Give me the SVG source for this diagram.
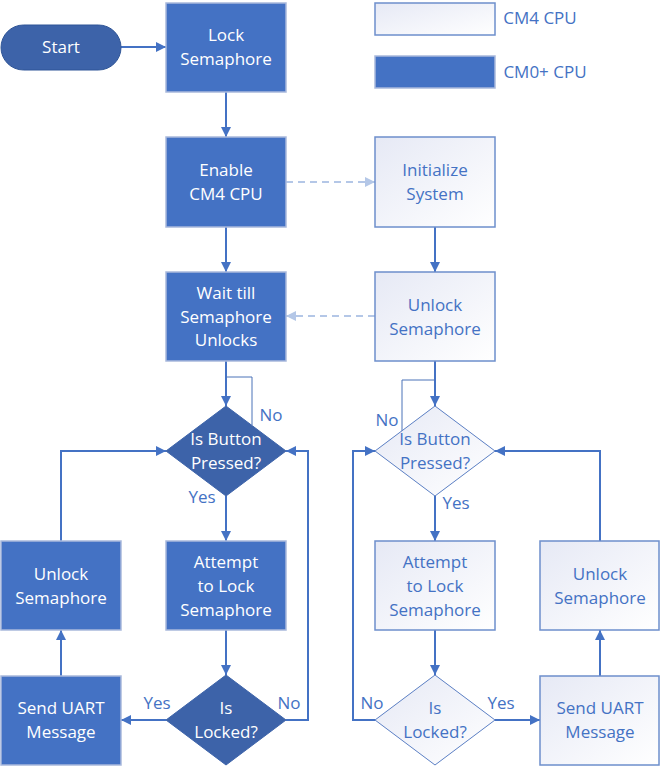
<svg xmlns="http://www.w3.org/2000/svg" width="661" height="767" viewBox="0 0 661 767">
<defs>
<linearGradient id="lg" x1="0" y1="0" x2="1" y2="1">
<stop offset="0" stop-color="#e6e9f5"/>
<stop offset="1" stop-color="#ffffff"/>
</linearGradient>
<marker id="ah" viewBox="0 0 10 10" refX="10" refY="5" markerWidth="5" markerHeight="5" orient="auto" markerUnits="strokeWidth">
<path d="M0,0 L10,5 L0,10 z" fill="#4472c4"/>
</marker>
<marker id="ahl" viewBox="0 0 10 10" refX="10" refY="5" markerWidth="5" markerHeight="5" orient="auto" markerUnits="strokeWidth">
<path d="M0,0 L10,5 L0,10 z" fill="#b4c7e7"/>
</marker>
</defs>
<style>
text{font-family:"Open Sans","Noto Sans","Liberation Sans",sans-serif;font-size:17px;text-anchor:middle}
.d{fill:#4472c4;stroke:#a9b9dc;stroke-width:1.5}
.dd{fill:#3d63a9;stroke:#3d63a9;stroke-width:1}
.l{fill:url(#lg);stroke:#6d8fcc;stroke-width:1.5}
.ld{fill:url(#lg);stroke:#5b7fc4;stroke-width:1}
.tw{fill:#ffffff}
.tb{fill:#4472c4}
.lab{fill:#4472c4;text-anchor:middle}
.c{fill:none;stroke:#4472c4;stroke-width:2}
.ca{fill:none;stroke:#4472c4;stroke-width:2;marker-end:url(#ah)}
.cs{fill:none;stroke:#4a72b8;stroke-width:1}
.dash{fill:none;stroke:#b4c7e7;stroke-width:2;stroke-dasharray:7,5;marker-end:url(#ahl)}
</style>

<g id="connectors">
<path class="ca" d="M121,47 H166"/>
<path class="ca" d="M226,92 V137"/>
<path class="ca" d="M226,227 V272"/>
<path class="ca" d="M226,361 V406"/>
<path class="cs" d="M226,377 H252 V425"/>
<path class="ca" d="M226,496 V541"/>
<path class="ca" d="M226,630 V675"/>
<path class="ca" d="M166,720 H121"/>
<path class="ca" d="M61,676 V630"/>
<path class="ca" d="M61,541 V451 H166"/>
<path class="ca" d="M286,720 H308 V451 H286"/>
<path class="dash" d="M286,182 H375"/>
<path class="dash" d="M375,316 H286"/>
<path class="ca" d="M435,227 V272"/>
<path class="ca" d="M435,361 V406"/>
<path class="cs" d="M435,380 H402 V432"/>
<path class="ca" d="M435,496 V541"/>
<path class="ca" d="M435,630 V675"/>
<path class="ca" d="M495,720 H540"/>
<path class="ca" d="M600,676 V630"/>
<path class="ca" d="M600,541 V451 H495"/>
<path class="ca" d="M375,720 H353 V451 H375"/>
</g>

<g id="legend">
<rect class="l" x="375" y="3" width="120" height="32"/>
<text class="tb" x="540" y="24">CM4 CPU</text>
<rect class="d" x="375" y="56" width="120" height="32"/>
<text class="tb" x="545" y="78">CM0+ CPU</text>
</g>

<g id="start">
<rect x="1" y="25" width="120" height="45" rx="22.5" fill="#3d63a9" stroke="#2f5597" stroke-width="1"/>
<text class="tw" x="61" y="53">Start</text>
</g>

<g id="lock">
<rect class="d" x="166" y="3" width="120" height="89"/>
<text class="tw" x="226" y="41">Lock</text>
<text class="tw" x="226" y="65">Semaphore</text>
</g>

<g id="enable">
<rect class="d" x="166" y="137" width="120" height="90"/>
<text class="tw" x="226" y="176">Enable</text>
<text class="tw" x="226" y="200">CM4 CPU</text>
</g>

<g id="wait">
<rect class="d" x="166" y="272" width="120" height="89"/>
<text class="tw" x="226" y="299">Wait till</text>
<text class="tw" x="226" y="323">Semaphore</text>
<text class="tw" x="226" y="346">Unlocks</text>
</g>

<g id="pressed0">
<path class="dd" d="M226,406 L286,451 L226,496 L166,451 Z"/>
<text class="tw" x="226" y="445">Is Button</text>
<text class="tw" x="226" y="469">Pressed?</text>
</g>

<g id="attempt0">
<rect class="d" x="166" y="541" width="120" height="89"/>
<text class="tw" x="226" y="568">Attempt</text>
<text class="tw" x="226" y="592">to Lock</text>
<text class="tw" x="226" y="616">Semaphore</text>
</g>

<g id="locked0">
<path class="dd" d="M226,675 L286,720 L226,765 L166,720 Z"/>
<text class="tw" x="226" y="714">Is</text>
<text class="tw" x="226" y="738">Locked?</text>
</g>

<g id="uart0">
<rect class="d" x="1" y="676" width="120" height="89"/>
<text class="tw" x="61" y="714">Send UART</text>
<text class="tw" x="61" y="738">Message</text>
</g>

<g id="unlock0">
<rect class="d" x="1" y="541" width="120" height="89"/>
<text class="tw" x="61" y="580">Unlock</text>
<text class="tw" x="61" y="604">Semaphore</text>
</g>

<g id="init">
<rect class="l" x="375" y="137" width="120" height="90"/>
<text class="tb" x="435" y="176">Initialize</text>
<text class="tb" x="435" y="200">System</text>
</g>

<g id="unlock1">
<rect class="l" x="375" y="272" width="120" height="89"/>
<text class="tb" x="435" y="311">Unlock</text>
<text class="tb" x="435" y="335">Semaphore</text>
</g>

<g id="pressed1">
<path class="ld" d="M435,406 L495,451 L435,496 L375,451 Z"/>
<text class="tb" x="435" y="445">Is Button</text>
<text class="tb" x="435" y="469">Pressed?</text>
</g>

<g id="attempt1">
<rect class="l" x="375" y="541" width="120" height="89"/>
<text class="tb" x="435" y="568">Attempt</text>
<text class="tb" x="435" y="592">to Lock</text>
<text class="tb" x="435" y="616">Semaphore</text>
</g>

<g id="locked1">
<path class="ld" d="M435,675 L495,720 L435,765 L375,720 Z"/>
<text class="tb" x="435" y="714">Is</text>
<text class="tb" x="435" y="738">Locked?</text>
</g>

<g id="uart1">
<rect class="l" x="540" y="676" width="119" height="89"/>
<text class="tb" x="600" y="714">Send UART</text>
<text class="tb" x="600" y="738">Message</text>
</g>

<g id="unlock2">
<rect class="l" x="540" y="541" width="119" height="89"/>
<text class="tb" x="600" y="580">Unlock</text>
<text class="tb" x="600" y="604">Semaphore</text>
</g>

<g id="labels">
<text class="lab" x="271" y="421">No</text>
<text class="lab" x="202" y="503">Yes</text>
<text class="lab" x="157" y="709">Yes</text>
<text class="lab" x="289" y="709">No</text>
<text class="lab" x="387" y="426">No</text>
<text class="lab" x="456" y="509">Yes</text>
<text class="lab" x="372" y="709">No</text>
<text class="lab" x="501" y="709">Yes</text>
</g>
</svg>
